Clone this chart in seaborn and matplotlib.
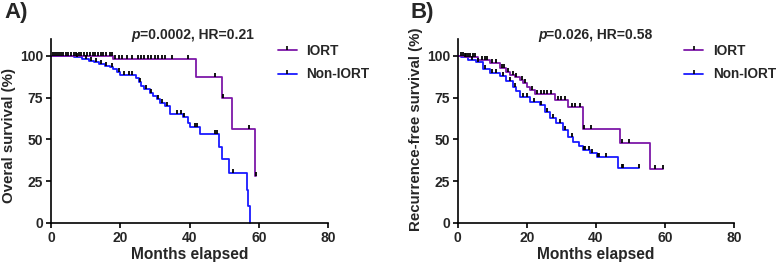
import numpy as np
import pandas as pd
import matplotlib
matplotlib.use('Agg')
import matplotlib.pyplot as plt
from matplotlib.lines import Line2D
import seaborn as sns

# Kaplan-Meier curves (months, survival %)
# panel A: overall survival
a_iort_t = [0, 18, 42, 49.3, 52.2, 59, 59.3]
a_iort_s = [100, 98, 87, 75, 56, 28, 28]
a_iort_cens = [0.6, 1.2, 1.8, 2.4, 3, 3.6, 4.3, 5, 5.8, 6.5, 7.3, 8, 8.8, 9.6, 10.4, 11.2,
               12, 12.8, 13.5, 14.3, 15, 16, 17, 17.6, 18.5, 19.5, 20.5, 22, 23.5, 25, 26,
               27, 28, 29, 30, 31, 32, 33, 35, 39.5, 47.3, 49.8, 57.3, 59.3]

a_non_t = [0, 6.5, 9, 11, 12.5, 14, 15.5, 17, 18, 19, 20, 24.5, 25.3, 26, 27, 28.5, 29.5,
           30.5, 31.5, 33, 34.5, 38, 39.5, 40.2, 43, 48.4, 49.5, 51.5, 56.7, 57, 57.4]
a_non_s = [100, 99, 98, 97, 96, 95, 94, 93, 92, 90, 88.5, 86.5, 84, 82, 80, 78, 76,
           74, 72, 70, 65, 63.5, 60, 57.5, 53, 45.5, 38, 30, 20, 10, 0]
a_non_cens = [7.5, 10, 11.5, 13, 14.5, 16, 17.5, 19.5, 21, 22.5, 23.5, 25.8, 27.5, 29, 31,
              32, 33.5, 36.5, 37.5, 38.5, 41.5, 42.2, 47.5, 48, 52.5]

# panel B: recurrence-free survival
b_iort_t = [0, 2, 6, 9.4, 12.2, 14, 15.1, 16.5, 18, 19, 20, 21, 22.4, 28.2, 32, 36.4, 47, 55.7, 59.5]
b_iort_s = [100, 99, 97.2, 95.6, 92.6, 90.5, 88.6, 87, 85.6, 83.5, 81.6, 79.5, 77.2, 73.6,
            69.3, 56, 47.7, 32, 32]
b_iort_cens = [1, 1.5, 2.5, 3, 3.5, 4.5, 5, 7, 8, 8.5, 10, 11, 12.8, 13.5, 14.5, 16, 17,
               18.5, 19.5, 21.5, 23, 24, 25, 26, 27, 29, 30, 31, 33, 34, 35.5, 36.6, 38.5,
               47.5, 49.5, 57, 59.5]

b_non_t = [0, 1, 3, 5.4, 7.3, 9.4, 12.2, 14.1, 16.1, 17, 18, 20.9, 23.8, 25.2, 26.7, 28.6,
           30.5, 32, 33.4, 35, 36.4, 38.3, 40.2, 46.5, 52.5]
b_non_s = [100, 99, 97.5, 96, 92, 89.6, 87.6, 84.6, 81.6, 79, 75.6, 72.6, 70.6, 66.6, 62.6,
           59.6, 55.6, 51.6, 48.7, 46, 43.5, 41.7, 39.7, 32.7, 32.7]
b_non_cens = [2, 4, 6, 8, 10, 11, 13, 15, 16.5, 19, 20, 22, 24, 25.8, 27.5, 29.5, 31, 33,
              36.5, 37, 38, 39, 40.5, 41, 43, 47.5, 48, 52.5]

panel_labels = ['A)', 'B)']
ylabels = ['Overal survival (%)', 'Recurrence-free survival (%)']
stats_text = ['=0.0002, HR=0.21', '=0.026, HR=0.58']
groups = ['IORT', 'Non-IORT']

purple = '#7d18a8'
blue = '#1a1aff'

sns.set_theme(style='ticks')
plt.rcParams['font.family'] = ['Liberation Sans', 'DejaVu Sans']


def step_at(t, times, surv):
    # survival value of the step curve at time t
    idx = np.searchsorted(times, t, side='right') - 1
    return surv[max(idx, 0)]


fig = plt.figure(figsize=(7.77, 2.69), dpi=100)
ax_a = fig.add_axes([51/777, 1-223/269, 277/777, 184/269])
ax_b = fig.add_axes([457.7/777, 1-223/269, 276.3/777, 184/269])

curves = [
    [(a_iort_t, a_iort_s, a_iort_cens, purple), (a_non_t, a_non_s, a_non_cens, blue)],
    [(b_iort_t, b_iort_s, b_iort_cens, purple), (b_non_t, b_non_s, b_non_cens, blue)],
]
ylabel_pos = [(-0.125, 0.473), (-0.127, 0.51)]

for i, ax in enumerate([ax_a, ax_b]):
    # draw non-IORT first, IORT over it
    for t, s, cens, col in curves[i][::-1]:
        d = pd.DataFrame({'t': t, 's': s})
        sns.lineplot(data=d, x='t', y='s', ax=ax, color=col, lw=1.3,
                     drawstyle='steps-post', estimator=None, sort=False, clip_on=False)
        cd = pd.DataFrame({'t': cens, 's': [step_at(c, t, s) for c in cens]})
        sns.scatterplot(data=cd, x='t', y='s', ax=ax, marker=2, color='black',
                        s=8, linewidth=1.3, clip_on=False, zorder=5)

    ax.set_xlim(0, 80)
    ax.set_ylim(0, 110)
    ax.set_xticks([0, 20, 40, 60, 80])
    ax.set_yticks([0, 25, 50, 75, 100])
    for sp in ['top', 'right']:
        ax.spines[sp].set_visible(False)
    for sp in ['left', 'bottom']:
        ax.spines[sp].set_linewidth(1.2)
        ax.spines[sp].set_color('black')
    ax.tick_params(axis='both', length=3.5, width=1.2, color='black', pad=2,
                   labelsize=10)
    for lab in ax.get_xticklabels() + ax.get_yticklabels():
        lab.set_fontweight('bold')
    ax.set_xlabel('Months elapsed', fontsize=11.2, fontweight='bold', labelpad=2)
    ax.set_ylabel(ylabels[i], fontsize=10.8, fontweight='bold')
    ax.yaxis.set_label_coords(*ylabel_pos[i])

    ax.text(0.321, 1.022, 'p', transform=ax.transAxes, ha='right', va='center',
            fontsize=10, fontweight='bold', fontstyle='italic')
    ax.text(0.321, 1.022, stats_text[i], transform=ax.transAxes, ha='left', va='center',
            fontsize=10, fontweight='bold')

    handles = [Line2D([0], [0], color=purple, lw=1.3, marker=2, mec='black', ms=3, mew=1.2),
               Line2D([0], [0], color=blue, lw=1.3, marker=2, mec='black', ms=3, mew=1.2)]
    ax.legend(handles, groups, loc='upper left', bbox_to_anchor=(0.775, 1.04),
              frameon=False, handlelength=1.4, handletextpad=0.7, numpoints=1,
              prop={'weight': 'bold', 'size': 9.8}, labelspacing=0.7)

fig.text(4/777, 1-12.5/269, panel_labels[0], fontsize=16, fontweight='bold', va='center')
fig.text(410/777, 1-12.5/269, panel_labels[1], fontsize=16, fontweight='bold', va='center')

fig.savefig('out.png', dpi=100)
